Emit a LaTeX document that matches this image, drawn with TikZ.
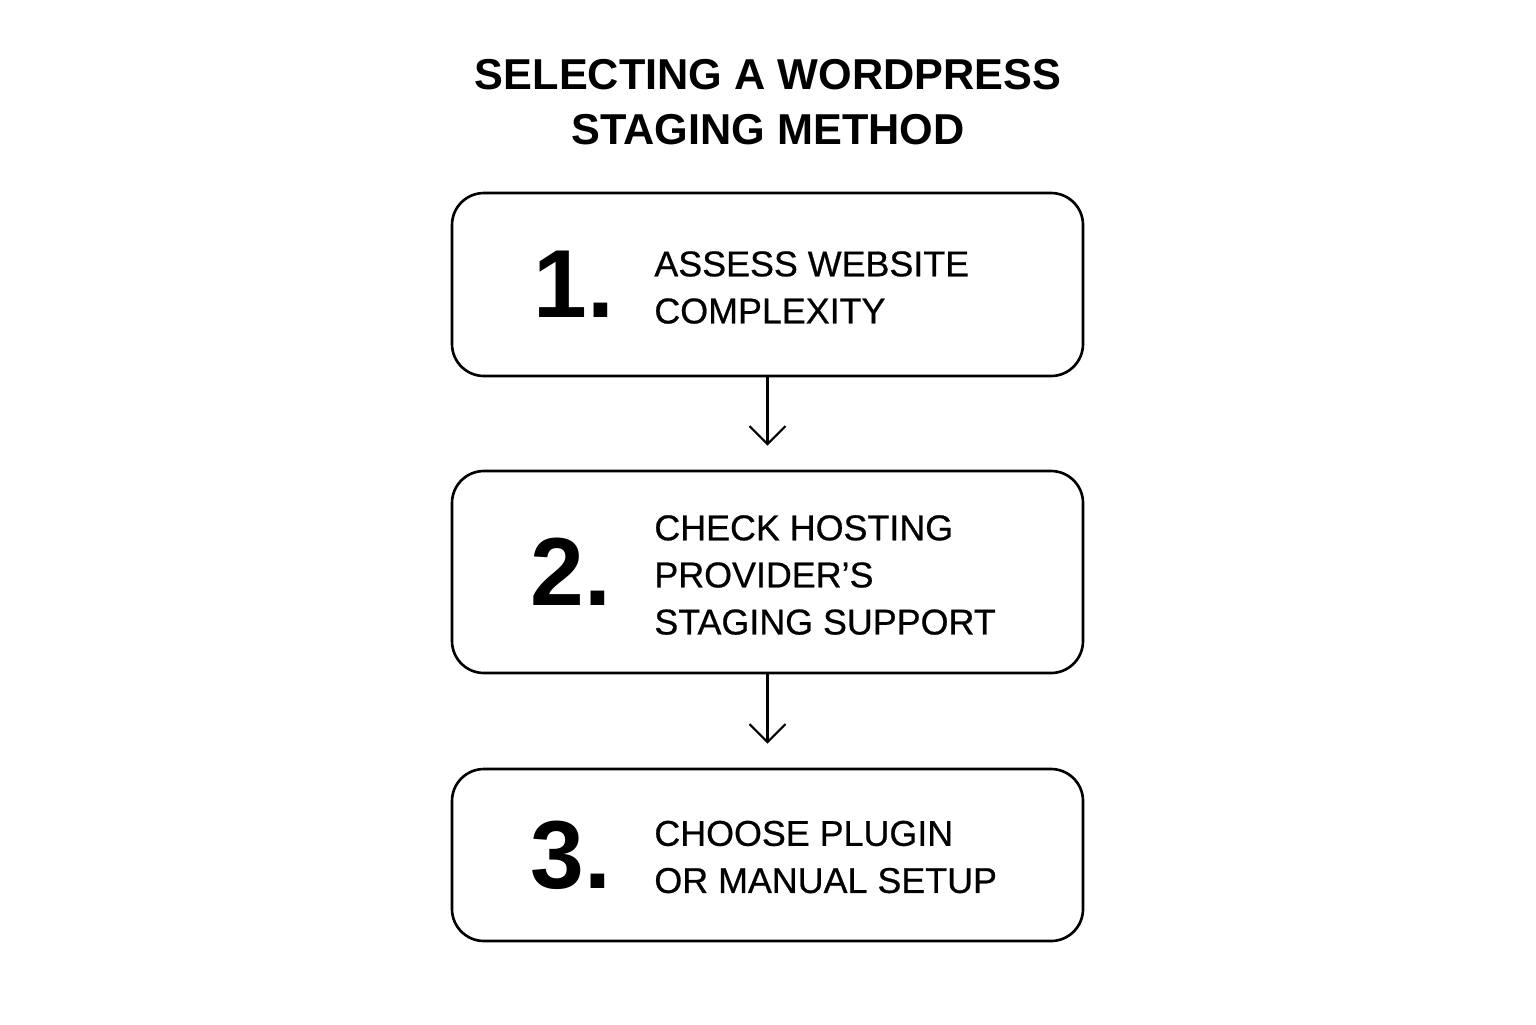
\documentclass[tikz,border=0pt]{standalone}
\usepackage{fontspec}
\setmainfont{Liberation Sans}
\usetikzlibrary{arrows.meta, positioning}

\begin{document}
\begin{tikzpicture}[
  stepbox/.style={draw, line width=0.75pt, rounded corners=0.32cm, minimum width=6.31cm},
  numtext/.style={inner sep=0pt, anchor=west, font=\fontsize{27.5}{28}\selectfont\bfseries},
  steptext/.style={inner sep=0pt, anchor=west, align=left, font=\fontsize{10.2}{13.4}\selectfont\addfontfeatures{FakeBold=0.6}},
  flow/.style={line width=0.6pt, -{Straight Barb[length=1.8mm, width=3.6mm, line width=0.6pt]}, shorten >=2.4mm}
]
  \useasboundingbox (0, 0) rectangle (15.36, -10.24);
  % title
  \node[align=center, font=\fontsize{12.3}{15.6}\selectfont\bfseries] (title) at (7.68, -1.02)
    {SELECTING A WORDPRESS\\STAGING METHOD};
  % steps
  \node[stepbox, minimum height=1.83cm] (box1) at (7.675, -2.845) {};
  \node[stepbox, minimum height=2.02cm] (box2) at (7.675, -5.72) {};
  \node[stepbox, minimum height=1.72cm] (box3) at (7.675, -8.55) {};
  \node[numtext, right=0.82cm of box1.west] (num1) {1.};
  \node[numtext, right=0.79cm of box2.west] (num2) {2.};
  \node[numtext, right=0.79cm of box3.west] (num3) {3.};
  \node[steptext, right=2.03cm of box1.west, yshift=-0.03cm] (txt1) {ASSESS WEBSITE\\COMPLEXITY};
  \node[steptext, right=2.03cm of box2.west, yshift=-0.03cm] (txt2) {CHECK HOSTING\\PROVIDER’S\\STAGING SUPPORT};
  \node[steptext, right=2.03cm of box3.west, yshift=-0.02cm] (txt3) {CHOOSE PLUGIN\\OR MANUAL SETUP};
  % connectors
  \draw[flow] (box1) -- (box2);
  \draw[flow] (box2) -- (box3);
\end{tikzpicture}
\end{document}
